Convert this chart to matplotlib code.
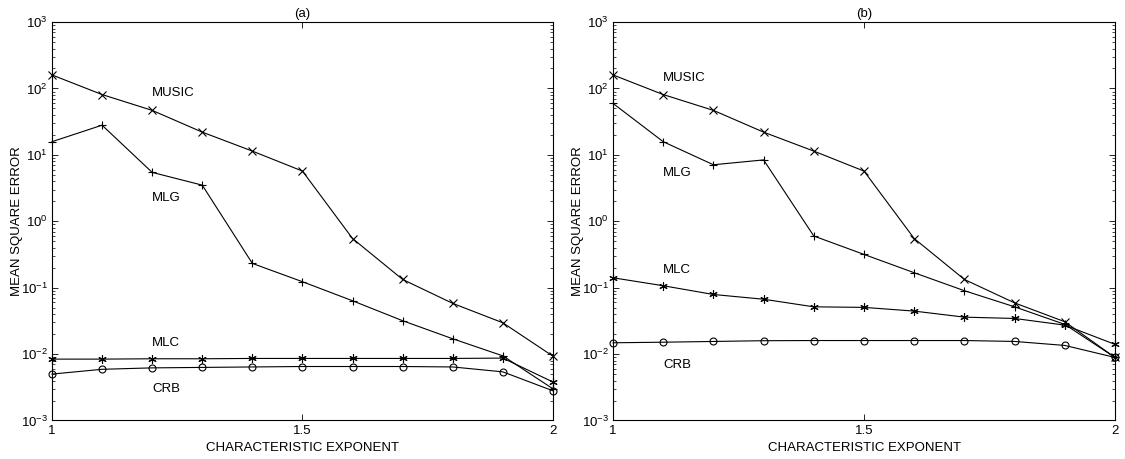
import matplotlib
matplotlib.use("Agg")
import matplotlib.pyplot as plt
from matplotlib.ticker import FixedLocator, NullFormatter, LogFormatterMathtext

plt.rcParams['font.family'] = ['Liberation Sans', 'DejaVu Sans']
plt.rcParams['mathtext.default'] = 'regular'
plt.rcParams['font.size'] = 9.5

alpha = [1.0, 1.1, 1.2, 1.3, 1.4, 1.5, 1.6, 1.7, 1.8, 1.9, 2.0]

# Panel (a)
music_a = [160, 81, 46.8, 22, 11.4, 5.7, 0.55, 0.133, 0.058, 0.0296, 0.0093]
mlg_a = [15.8, 28, 5.45, 3.5, 0.232, 0.123, 0.0635, 0.0318, 0.017, 0.0094, 0.0030]
mlc_a = [0.0084, 0.0084, 0.0085, 0.0085, 0.0086, 0.0086, 0.0086, 0.0086, 0.0086, 0.0087, 0.0038]
crb_a = [0.0050, 0.0059, 0.0062, 0.0063, 0.0064, 0.0065, 0.0065, 0.0065, 0.0064, 0.0054, 0.0028]

# Panel (b)
music_b = [160, 81, 46.8, 22, 11.4, 5.7, 0.55, 0.133, 0.059, 0.0307, 0.0089]
mlg_b = [59.6, 15.8, 7.1, 8.4, 0.6, 0.317, 0.168, 0.09, 0.0515, 0.028, 0.0089]
mlc_b = [0.141, 0.107, 0.079, 0.067, 0.0515, 0.0505, 0.0444, 0.036, 0.0344, 0.0273, 0.014]
crb_b = [0.0148, 0.0151, 0.0155, 0.0159, 0.016, 0.016, 0.016, 0.016, 0.0155, 0.0135, 0.0089]

panel_titles = ['(a)', '(b)']
series_names = ['MUSIC', 'MLG', 'MLC', 'CRB']
label_pos = [
    [(1.2, 85), (1.2, 2.23), (1.2, 0.0148), (1.2, 0.003)],
    [(1.10, 142), (1.10, 5.4), (1.10, 0.184), (1.10, 0.0068)],
]
xticks = [1, 1.5, 2]
xticklabels = ['1', '1.5', '2']
decades = [-3, -2, -1, 0, 1, 2, 3]

yticks_major = [10.0 ** d for d in decades]
yticks_minor = [m * 10.0 ** d for d in decades[:-1] for m in range(2, 10)]

fig = plt.figure(figsize=(11.25, 4.59), dpi=100)
ax_a = fig.add_axes([0.0462, 0.0839, 0.4453, 0.868])
ax_b = fig.add_axes([0.5449, 0.0839, 0.4462, 0.868])

data = [
    (music_a, mlg_a, mlc_a, crb_a),
    (music_b, mlg_b, mlc_b, crb_b),
]
markers = ['x', '+', (6, 2, 0), 'o']
msizes = [6, 6, 6, 5]

for ax, series, title, lpos in zip([ax_a, ax_b], data, panel_titles, label_pos):
    for vals, mk, ms in zip(series, markers, msizes):
        ax.plot(alpha, vals, color='black', lw=0.8, marker=mk, ms=ms,
                mfc='none', mec='black', mew=0.8, clip_on=False)
    for name, (lx, ly) in zip(series_names, lpos):
        ax.text(lx, ly, name, ha='left', va='center', fontsize=9.5)
    ax.set_yscale('log')
    ax.set_xlim(1, 2)
    ax.set_ylim(1e-3, 1e3)
    ax.yaxis.set_major_locator(FixedLocator(yticks_major))
    ax.yaxis.set_major_formatter(LogFormatterMathtext())
    ax.yaxis.set_minor_locator(FixedLocator(yticks_minor))
    ax.yaxis.set_minor_formatter(NullFormatter())
    ax.xaxis.set_major_locator(FixedLocator(xticks))
    ax.set_xticklabels(xticklabels)
    ax.tick_params(which='both', direction='in', top=True, right=True,
                   labelsize=9.5, pad=3)
    ax.tick_params(which='major', length=4, width=0.6)
    ax.tick_params(which='minor', length=2, width=0.5)
    for sp in ax.spines.values():
        sp.set_linewidth(0.8)
    ax.set_title(title, fontsize=9.5, pad=3.5)
    ax.set_xlabel('CHARACTERISTIC EXPONENT', fontsize=9.5, va='center')
    ax.set_ylabel('MEAN SQUARE ERROR', fontsize=9.5, va='center')
    ax.xaxis.set_label_coords(0.5, -0.07)
    ax.yaxis.set_label_coords(-0.069, 0.5)

fig.savefig('out.png', dpi=100, facecolor='white')
